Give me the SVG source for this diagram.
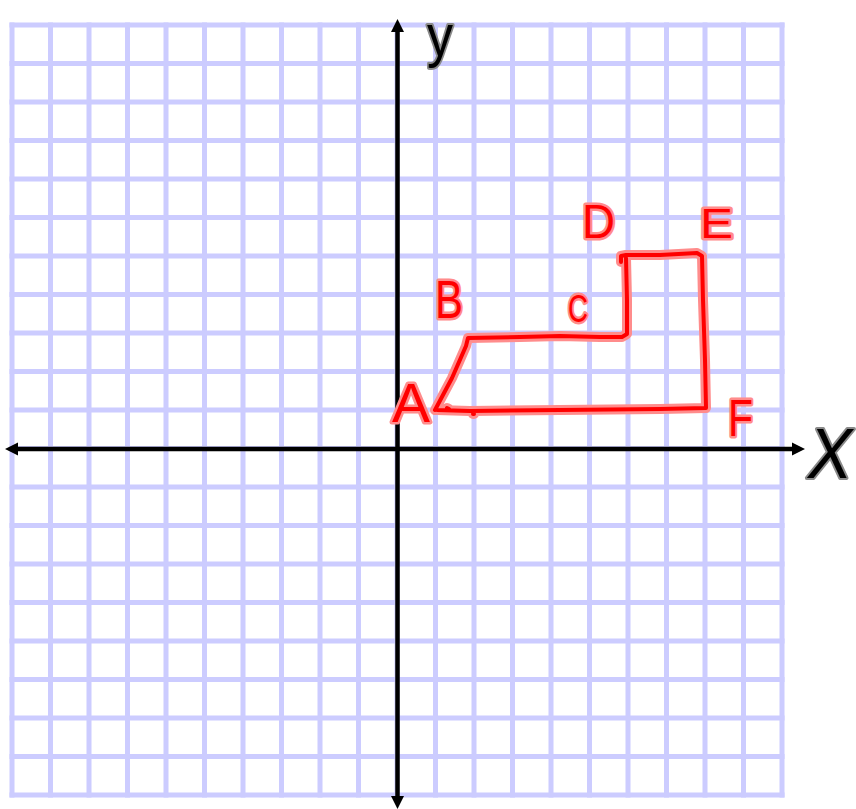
<svg xmlns="http://www.w3.org/2000/svg" width="856" height="809" viewBox="0 0 856 809">
  <defs>
    <style>
      .grid { stroke: #ccccff; stroke-width: 5; fill: none; stroke-linecap: square; }
      .axis { stroke: #000; stroke-width: 4.5; fill: none; }
      .head { fill: #000; }
      .halo { fill: none; stroke: #ff8c8c; stroke-width: 10; stroke-linejoin: round; stroke-linecap: round; }
      .ink { fill: none; stroke: #ff0000; stroke-width: 4; stroke-linejoin: round; stroke-linecap: round; }
      .rlab { font-family: "Liberation Sans", "DejaVu Sans", sans-serif; fill: #ff0000; stroke: #ff8c8c; stroke-width: 5; stroke-linejoin: round; paint-order: stroke; }
      .klab { font-family: "Liberation Sans", "DejaVu Sans", sans-serif; fill: #000; stroke: #8a8a8a; stroke-width: 4; stroke-linejoin: round; paint-order: stroke; }
    </style>
  </defs>
  <rect width="856" height="809" fill="#ffffff"/>
  <g id="grid" class="grid">
    <path d="M12 25V795M50.5 25V795M89 25V795M127.5 25V795M166 25V795M204.5 25V795M243 25V795M281.5 25V795M320 25V795M358.5 25V795M397 25V795M435.5 25V795M474 25V795M512.5 25V795M551 25V795M589.5 25V795M628 25V795M666.5 25V795M705 25V795M743.5 25V795M782 25V795"/>
    <path d="M12 25H782M12 63.5H782M12 102H782M12 140.5H782M12 179H782M12 217.5H782M12 256H782M12 294.5H782M12 333H782M12 371.5H782M12 410H782M12 448.5H782M12 487H782M12 525.5H782M12 564H782M12 602.5H782M12 641H782M12 679.5H782M12 718H782M12 756.5H782M12 795H782"/>
  </g>
  <g id="axes">
    <path class="axis" d="M17 449H793M397.5 31V798"/>
    <polygon class="head" points="5,449 18,442.5 18,455.5"/>
    <polygon class="head" points="805,449 792,442.5 792,455.5"/>
    <polygon class="head" points="397.5,19 391,32 404,32"/>
    <polygon class="head" points="397.5,809 391,796 404,796"/>
  </g>
  <g id="shape">
    <path class="halo" d="M435 410L452 378L466 346L468 338L520 337L560 336L600 337L622 337L627 334L627 300L626 258M621 262L621 256L626 255L660 255L697 253L702 256L703 300L705 360L706 408L660 409L560 410L470 411L437 410M473 414L474 414M447 408L449 409"/>
    <path class="ink" d="M435 410L452 378L466 346L468 338L520 337L560 336L600 337L622 337L627 334L627 300L626 258M621 262L621 256L626 255L660 255L697 253L702 256L703 300L705 360L706 408L660 409L560 410L470 411L437 410M473 414L474 414M447 408L449 409"/>
  </g>
  <g id="labels">
    <text id="label-A" class="rlab" x="392" y="422" font-size="56" textLength="38" lengthAdjust="spacingAndGlyphs">A</text>
    <text id="label-B" class="rlab" x="435" y="318" font-size="54" textLength="28" lengthAdjust="spacingAndGlyphs">B</text>
    <text id="label-C" class="rlab" x="568" y="322" font-size="38" textLength="20" lengthAdjust="spacingAndGlyphs">C</text>
    <text id="label-D" class="rlab" x="582" y="238" font-size="48" textLength="33" lengthAdjust="spacingAndGlyphs">D</text>
    <text id="label-E" class="rlab" x="700" y="238" font-size="42" textLength="33" lengthAdjust="spacingAndGlyphs">E</text>
    <text id="label-F" class="rlab" x="728" y="436" font-size="52" textLength="25" lengthAdjust="spacingAndGlyphs">F</text>
    <text id="label-y" class="klab" x="427" y="56" font-size="60" textLength="26" lengthAdjust="spacingAndGlyphs">y</text>
    <text id="label-x" class="klab" x="808" y="478" font-size="70" font-style="italic" textLength="44" lengthAdjust="spacingAndGlyphs">X</text>
  </g>
</svg>
